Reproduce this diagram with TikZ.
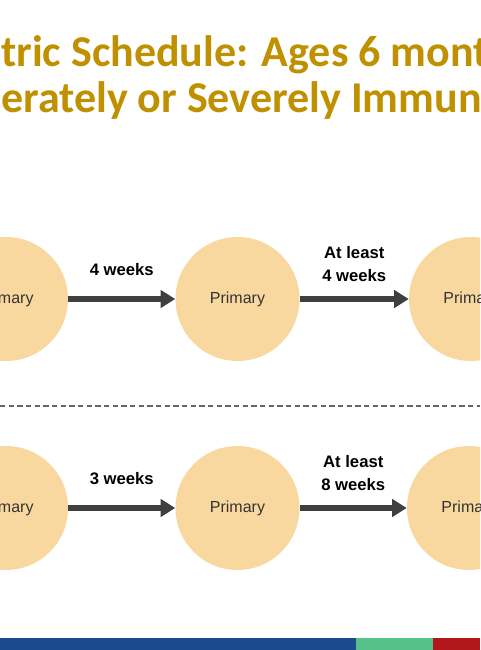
\documentclass[tikz,border=0pt]{standalone}
\usepackage{fontspec}
\setmainfont{Liberation Sans}
\newfontfamily\titlefont{Carlito}
\usetikzlibrary{arrows.meta,positioning}

\definecolor{titlegold}{HTML}{BF9000}
\definecolor{dosefill}{HTML}{F9D8A0}
\definecolor{arrowgray}{HTML}{3F3F3F}
\definecolor{barblue}{HTML}{1A4A8F}
\definecolor{bargreen}{HTML}{57C18B}
\definecolor{barred}{HTML}{B0161A}

\begin{document}
\begin{tikzpicture}[x=0.75pt, y=-0.75pt,
  dose/.style={circle, fill=dosefill, minimum size=93pt, inner sep=0pt, font=\fontsize{12}{14}\selectfont, text=black!80},
  gap/.style={-{Triangle[length=11pt, width=13pt]}, line width=4.5pt, draw=arrowgray},
  lbl/.style={font=\bfseries\fontsize{12.5}{17}\selectfont, align=center, inner sep=0pt},
  ttl/.style={font=\titlefont\bfseries\fontsize{33}{40}\selectfont, text=titlegold, anchor=base west, inner sep=0pt}
]
\useasboundingbox (0,0) rectangle (480,650);
\clip (0,0) rectangle (480,650);

% Title (cropped)
\node[ttl] (t1) at (1, 66) {tric Schedule: Ages 6 mont};
\node[ttl] (t2) at (1, 112) {erately or Severely Immun};

% Row 1
\node[dose] (a1) at (6, 299) {Primary};
\node[dose] (a2) at (237.5, 299) {Primary};
\node[dose] (a3) at (471, 299) {Primary};

\draw[gap] (a1) -- node[lbl, above=15pt] {4 weeks} (a2);
\draw[gap] (a2) -- node[lbl, above=11pt] {At least\\4 weeks} (a3);

% Separator
\coordinate (sl) at (0, 406);
\coordinate (sr) at (480, 406);
\draw[dashed, gray!80!black, line width=1pt, dash pattern=on 4pt off 2.5pt] (sl) -- (sr);

% Row 2
\node[dose] (b1) at (6, 508) {Primary};
\node[dose] (b2) at (237.5, 508) {Primary};
\node[dose] (b3) at (469, 508) {Primary};

\draw[gap] (b1) -- node[lbl, above=15pt] {3 weeks} (b2);
\draw[gap] (b2) -- node[lbl, above=11pt] {At least\\8 weeks} (b3);

% Footer bar
\fill[barblue] (0, 638) rectangle (356, 650);
\fill[bargreen] (356, 638) rectangle (433, 650);
\fill[barred] (433, 638) rectangle (480, 650);
\end{tikzpicture}
\end{document}
